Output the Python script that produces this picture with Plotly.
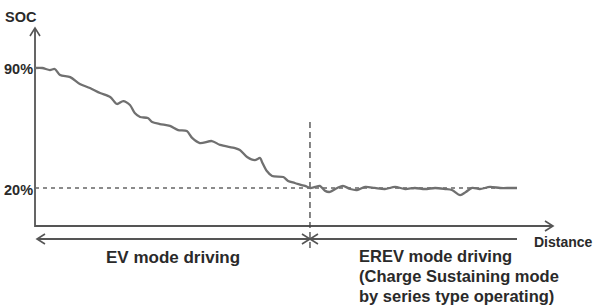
import plotly.graph_objects as go

# ---- data (distance in arbitrary units, SOC in %) ----
distance = [0, 1.5, 3.1, 4.1, 5.2, 7.3, 9.3, 11.4, 13.5, 15.6, 17.0, 18.3, 19.7, 20.7, 21.8,
            23.4, 24.3, 25.9, 28.0, 29.7, 31.5, 32.6, 34.2, 36.7, 38.4, 41.5, 42.5, 44.0,
            45.6, 46.7, 47.1, 48.1, 49.2, 51.5, 52.5, 53.9, 56.0, 57.1, 58.1, 59.1, 60.2,
            61.2, 62.7, 63.9, 65.4, 66.8, 68.5, 70.5, 72.6, 74.7, 76.8, 78.8, 80.9, 83.0,
            85.1, 86.5, 88.2, 89.4, 90.7, 92.3, 94.4, 96.5, 98.5, 100]
soc = [90.0, 90.0, 88.8, 89.4, 85.9, 84.7, 80.7, 78.3, 75.4, 73.1, 69.0, 70.7, 68.4, 63.7, 61.4,
       60.8, 58.5, 57.3, 56.2, 53.8, 53.2, 49.2, 46.2, 47.4, 45.1, 43.3, 42.2, 38.1,
       36.3, 37.5, 35.2, 29.9, 27.0, 26.4, 24.1, 22.9, 21.2, 20.0, 20.6, 21.2, 18.3,
       17.7, 20.0, 21.2, 19.4, 18.8, 20.6, 20.0, 19.4, 20.6, 19.4, 20.0, 19.4, 20.0,
       19.4, 18.8, 15.8, 17.7, 20.0, 19.4, 20.6, 20.0, 20.0, 20.0]
soc_levels = [90, 20]
soc_labels = ["90%", "20%"]
switch_distance = 57.05
end_distance = 100
ev_label = "EV mode driving"
erev_lines = ["EREV mode driving", "(Charge Sustaining mode", "by series type operating)"]

W, H = 598, 305
PX_X = 4.82     # pixels per distance unit
PX_Y = 1.714    # pixels per SOC %
X0_PX = 35
Y90_PX = 68
x_range = [-X0_PX / PX_X, (W - X0_PX) / PX_X]
y_range = [90 - (H - Y90_PX) / PX_Y, 90 + Y90_PX / PX_Y]

def dx(p):
    return p / PX_X

def dy(p):
    return p / PX_Y

def ysoc(px):
    return 90 - (px - Y90_PX) / PX_Y

AX = "#555555"
fig = go.Figure()

def seg(xs, ys, color=AX, width=1.6, dash="solid"):
    fig.add_trace(go.Scatter(x=xs, y=ys, mode="lines",
                             line=dict(color=color, width=width, dash=dash),
                             hoverinfo="skip", showlegend=False))

def chevron(x, y, direction, size=8, half=5):
    if direction == "right":
        seg([x - dx(size), x, x - dx(size)], [y + dy(half), y, y - dy(half)])
    elif direction == "left":
        seg([x + dx(size), x, x + dx(size)], [y + dy(half), y, y - dy(half)])
    elif direction == "up":
        seg([x - dx(half), x, x + dx(half)], [y - dy(size), y, y - dy(size)])

axis_y = ysoc(226)
y_top = ysoc(28)
x_end = dx(553 - X0_PX)

# axes
seg([0, 0, x_end], [y_top, axis_y, axis_y], width=1.8)
chevron(0, y_top, "up")
chevron(x_end, axis_y, "right")

# 20% reference dashed
seg([0, end_distance], [soc_levels[1], soc_levels[1]], color="#666666", width=1.3, dash="4px,4px")
# switch vertical dashed
seg([switch_distance, switch_distance], [ysoc(122), ysoc(250)], color="#444444", width=1.3, dash="6px,4px")

# mode double arrows
arr_y = ysoc(239)
seg([dx(2), switch_distance], [arr_y, arr_y], width=1.8)
chevron(dx(2), arr_y, "left")
chevron(switch_distance, arr_y, "right")
seg([switch_distance, end_distance], [arr_y, arr_y], width=1.8)
chevron(switch_distance, arr_y, "left")

# SOC curve
fig.add_trace(go.Scatter(x=distance, y=soc, mode="lines",
                         line=dict(color="#707070", width=2.3, shape="spline", smoothing=0.8),
                         hoverinfo="skip", showlegend=False))

TXT = "#2a2a2a"
FONT = "Liberation Sans"

def ann(text, xpx, ypx, size, xanchor="left", yanchor="middle"):
    fig.add_annotation(text="<b>" + text + "</b>",
                       x=xpx / W, y=1 - ypx / H, xref="paper", yref="paper",
                       xanchor=xanchor, yanchor=yanchor, showarrow=False, align="left",
                       font=dict(family=FONT, size=size, color=TXT))

ann("SOC", 3, 17, 14.5)
ann(soc_labels[0], 2, 69, 14.5)
ann(soc_labels[1], 2, 190, 14.5)
ann("Distance", 532, 242, 14)
ann(ev_label, 173, 257, 17, xanchor="center")
for i, line in enumerate(erev_lines):
    ann(line, 357, 256 + 20 * i, 16.5)

fig.update_layout(width=W, height=H, margin=dict(l=0, r=0, t=0, b=0),
                  paper_bgcolor="white", plot_bgcolor="white",
                  xaxis=dict(range=x_range, visible=False, fixedrange=True),
                  yaxis=dict(range=y_range, visible=False, fixedrange=True))

fig.write_html("out.html", config={"displayModeBar": False})
